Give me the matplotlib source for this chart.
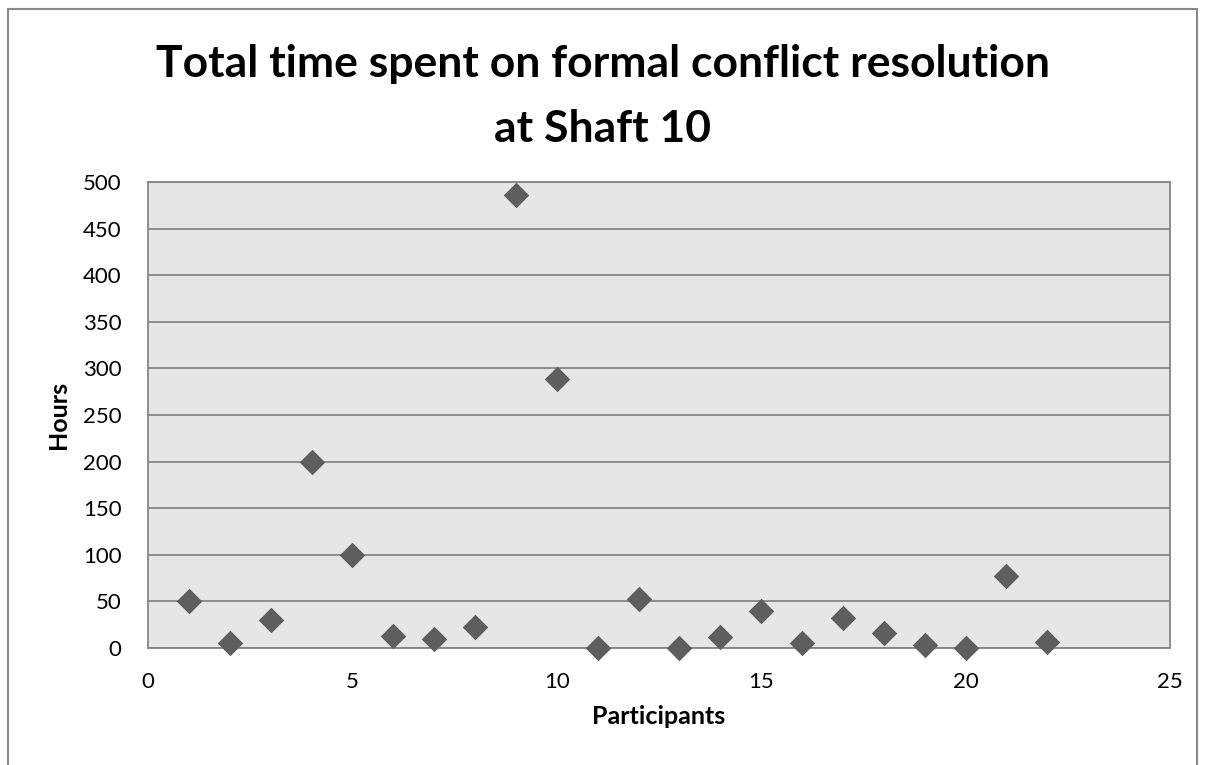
import numpy as np
import matplotlib.pyplot as plt
from matplotlib.patches import Rectangle

# data
participants = list(range(1, 23))
hours = [50, 5, 30, 200, 100, 13, 10, 22, 486, 289, 0,
         53, 0, 12, 40, 5, 32, 16, 3, 0, 77, 6]

x_ticks = [0, 5, 10, 15, 20, 25]
y_ticks = [0, 50, 100, 150, 200, 250, 300, 350, 400, 450, 500]

title_lines = ['Total time spent on formal conflict resolution', 'at Shaft 10']

plt.rcParams['font.family'] = ['Lato', 'DejaVu Sans']

W, H = 1206, 765
fig = plt.figure(figsize=(W / 100, H / 100), dpi=100)
ax = fig.add_axes([148 / W, 1 - 648 / H, (1170 - 148) / W, (648 - 182) / H])

# outer chart frame
fig.patches.append(Rectangle((8 / W, -0.01), (1197 - 8) / W, 1 - 9 / H + 0.01,
                             transform=fig.transFigure, fill=False,
                             edgecolor='#898989', linewidth=1.5))

ax.set_facecolor('#e6e6e6')
ax.scatter(participants, hours, marker='D', s=13 ** 2, color='#5e5e5e',
           linewidths=0, zorder=3, clip_on=False)

ax.set_xlim(0, 25)
ax.set_ylim(0, 500)
ax.set_xticks(x_ticks)
ax.set_yticks(y_ticks)
ax.tick_params(axis='both', length=0, labelsize=16)
ax.tick_params(axis='y', pad=19)
ax.tick_params(axis='x', pad=17)
ax.grid(axis='y', color='#868686', linewidth=1.3)
ax.set_axisbelow(True)
for s in ax.spines.values():
    s.set_color('#868686')
    s.set_linewidth(1.3)

ax.set_xlabel('Participants', fontsize=18, fontweight='bold', labelpad=10)
ax.set_ylabel('Hours', fontsize=18, fontweight='bold', labelpad=9)

# title, two lines placed by baseline
for txt, base in zip(title_lines, [77, 142]):
    fig.text(0.5, 1 - base / H, txt, ha='center', va='baseline',
             fontsize=32, fontweight='bold')

fig.savefig('out.png', dpi=100)
